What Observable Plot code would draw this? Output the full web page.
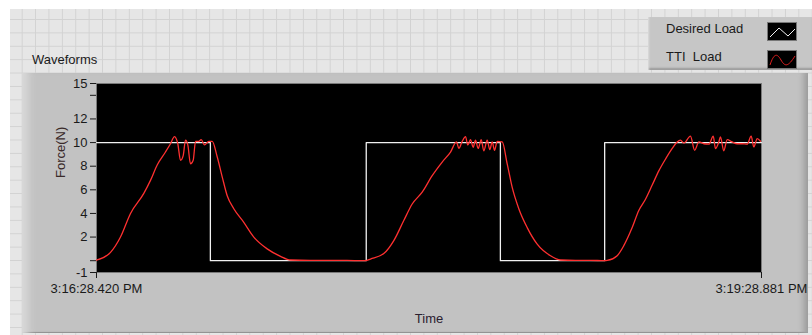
<!DOCTYPE html>
<html><head><meta charset="utf-8">
<script src="https://cdn.jsdelivr.net/npm/d3@7"></script>
<script src="https://cdn.jsdelivr.net/npm/@observablehq/plot@0.6"></script>
<style>
html,body{margin:0;padding:0;}
body{width:812px;height:335px;background:#ffffff;position:relative;overflow:hidden;font-family:"Liberation Sans",Arial,sans-serif;}
#grid{position:absolute;left:10px;top:9px;width:802px;height:326px;background-color:#e6e6e6;
 background-image:linear-gradient(#d2d2d2 1px,transparent 1px),linear-gradient(90deg,#d2d2d2 1px,transparent 1px);
 background-size:13.4px 13.4px;background-position:11.7px 10px;}
#title{position:absolute;left:32px;top:52px;font-size:13px;color:#1a1a1a;}
#panel{position:absolute;left:22px;top:73px;width:786px;height:260px;background:#c2c2c2;
 box-shadow:inset 12px 0 8px -6px #dadada, inset -8px 0 6px -4px #9a9a9a, inset 0 -2px 1px -1px #8a8a8a;}
#chart{position:absolute;left:22px;top:73px;}
#legend{position:absolute;left:648px;top:17px;width:164px;height:53px;background:#c6c6c6;
 box-shadow:inset 2px 0 2px -1px #dedede, inset 0 -3px 2px -1px #9a9a9a;font-size:13px;color:#1a1a1a;}
.row{position:absolute;left:18px;}
.sw{position:absolute;left:119px;width:30px;height:19px;background:#000;border:1px solid #777;box-sizing:border-box;}
</style></head>
<body>
<div id="grid"></div>
<div id="title">Waveforms</div>
<div id="panel"></div>
<div id="chart"></div>
<div id="legend">
 <div class="row" style="top:4px">Desired Load</div>
 <div class="sw" style="top:5px"><svg width="28" height="17"><polyline points="2,14 11,5 20,13 27,6" fill="none" stroke="#f2f2f2" stroke-width="1"/></svg></div>
 <div class="row" style="top:32px">TTI&nbsp; Load</div>
 <div class="sw" style="top:33px"><svg width="28" height="17"><path d="M2,14 C6,2 9,2 13,9 S20,16 27,5" fill="none" stroke="#e02020" stroke-width="1"/></svg></div>
</div>
<script>
// Desired load (step signal), time in seconds from 3:16:28.420 PM
const desiredTime = [0, 30.9, 73.2, 109.6, 137.9, 180.461];
const desiredLoad = [10, 0, 10, 0, 10, 10];

// Measured TTI load
const ttiTime = [0, 3.8, 6.51, 9.23, 12.84, 14.65, 16.47, 18.72, 20.08, 21.17, 22.06, 22.8, 23.53, 24.15, 24.78, 25.51, 26.24, 26.87, 27.76, 28.41, 29.31, 30.47, 31.4,
 32.75, 34.11, 35.47, 37.26, 39.97, 42.69, 46.32, 49.93, 52.65, 58.0, 63.5, 68.0, 73.0,
 74.35, 77.96, 80.68, 83.39, 85.67, 88.38, 91.1, 93.81, 96.07, 97.69, 98.32, 99.24, 100.14, 100.76, 101.49, 102.22, 102.85, 103.58, 104.4, 105.1, 106.02, 106.73, 107.38, 108.01, 108.74, 110.1,
 111.45, 112.81, 114.6, 116.88, 119.59, 123.2, 125.92, 130.0, 134.0, 137.86,
 138.59, 141.3, 143.09, 145.37, 147.16, 148.98, 150.8, 152.59, 154.41, 156.23, 157.58, 158.48, 159.38, 161.19, 162.31, 163.48, 164.84, 166.19, 167.37, 167.97, 168.88, 169.33, 170.23, 171.15, 172.5, 173.86, 175.22, 176.57, 177.66, 178.37, 179.29, 180.18];
const ttiForce = [0.05, 0.7, 2.0, 4.0, 5.7, 6.8, 8.1, 9.2, 9.9, 10.5, 9.9, 8.5, 8.9, 10.2, 9.8, 8.2, 8.5, 10.1, 10.1, 10.25, 9.8, 10.1, 10.1,
 8.8, 7.1, 5.5, 4.4, 3.25, 2.0, 1.0, 0.37, 0.06, 0.02, 0.03, 0.02, 0.0,
 0.14, 0.6, 1.7, 3.4, 4.8, 5.8, 7.2, 8.35, 9.2, 10.05, 9.5, 10.1, 10.5, 9.8, 10.25, 9.6, 10.2, 9.5, 10.25, 9.3, 10.2, 9.4, 10.05, 9.35, 10.1, 10.05,
 8.2, 6.2, 4.4, 2.8, 1.4, 0.42, 0.06, 0.02, 0.03, 0.0,
 0.02, 0.42, 1.27, 2.8, 4.25, 5.2, 6.4, 7.6, 8.6, 9.5, 10.05, 10.2, 9.95, 10.54, 9.35, 10.05, 9.9, 9.86, 10.54, 9.49, 10.05, 10.48, 9.3, 10.25, 10.05, 9.9, 9.9, 9.86, 10.54, 9.63, 10.34, 10.11];

const yTickValues = [15, 14, 12, 10, 8, 6, 4, 2, 0, -1];
const yTickLabels = ["15", "", "12", "10", "8", "6", "4", "2", "", "-1"];
const xTickValues = [0, 180.461];
const xTickLabels = ["3:16:28.420 PM", "3:19:28.881 PM"];

const desired = desiredTime.map((t, i) => ({t, v: desiredLoad[i]}));
const tti = ttiTime.map((t, i) => ({t, v: ttiForce[i]}));

const chart = Plot.plot({
  width: 786,
  height: 260,
  marginLeft: 74,
  marginRight: 47,
  marginTop: 10,
  marginBottom: 61,
  style: {background: "transparent", fontFamily: "Liberation Sans, Arial, sans-serif", fontSize: "13px", color: "#1a1a1a"},
  x: {domain: [0, 180.461]},
  y: {domain: [-1, 15]},
  marks: [
    Plot.frame({fill: "#000", stroke: "#7a7a7a"}),
    Plot.axisY({ticks: yTickValues, tickFormat: (d) => yTickLabels[yTickValues.indexOf(d)], tickSize: 6, tickPadding: 3, label: null, stroke: "#1a1a1a", fill: "#1a1a1a"}),
    Plot.axisX({ticks: xTickValues, tickFormat: d => xTickLabels[xTickValues.indexOf(d)], tickSize: 6, tickPadding: 5, label: null, stroke: "#1a1a1a", fill: "#1a1a1a"}),
    Plot.line(desired, {x: "t", y: "v", curve: "step-after", stroke: "#f0f0f0", strokeWidth: 1.3}),
    Plot.line(tti, {x: "t", y: "v", curve: "monotone-x", stroke: "#ff3030", strokeWidth: 1.3}),
    Plot.text(["Time"], {frameAnchor: "bottom", dy: 50, fontSize: 13, fill: "#2a2030"}),
    Plot.text(["Force(N)"], {frameAnchor: "left", dx: -36, rotate: -90, fontSize: 13, fill: "#3a2a2a"})
  ]
});
document.getElementById("chart").appendChild(chart);
</script>
</body></html>
